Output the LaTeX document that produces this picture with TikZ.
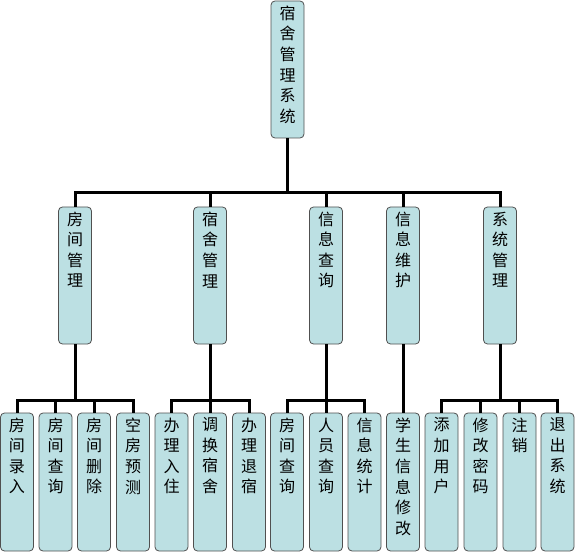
\documentclass[tikz,border=0pt]{standalone}
\usepackage{fontspec}
\newfontfamily\cjk{Noto Sans CJK SC}
\definecolor{boxfill}{HTML}{BCE0E3}
\definecolor{boxline}{HTML}{505050}
\begin{document}
\begin{tikzpicture}[x=1pt,y=-1pt,
  box/.style={draw=boxline,line width=0.8pt,fill=boxfill,rounded corners=4pt,
    minimum width=33pt,inner sep=0pt,outer sep=0pt},
  txt/.style={font=\cjk\fontsize{16}{20.6}\selectfont,align=center,inner sep=0pt,anchor=north},
  conn/.style={line width=3pt,black}]
\useasboundingbox (0,0) rectangle (575,553);
% helper: \bx{name}{cx}{top}{bottom}{text}
\newcommand{\bx}[5]{%
  \node[box,minimum height={#4-#3},anchor=north] (#1) at (#2,#3) {};
  \node[txt] (#1t) at (#2,#3+4.5) {#5};}
\bx{root}{287.5}{1}{138}{宿\\舍\\管\\理\\系\\统}
\bx{m1}{75}{207}{344}{房\\间\\管\\理}
\bx{m2}{210}{207}{344}{宿\\舍\\管\\理}
\bx{m3}{326}{207}{344}{信\\息\\查\\询}
\bx{m4}{403}{207}{344}{信\\息\\维\\护}
\bx{m5}{500}{207}{344}{系\\统\\管\\理}
\bx{l1}{17}{413}{551}{房\\间\\录\\入}
\bx{l2}{55.5}{413}{551}{房\\间\\查\\询}
\bx{l3}{94}{413}{551}{房\\间\\删\\除}
\bx{l4}{133}{413}{551}{空\\房\\预\\测}
\bx{l5}{171.5}{413}{551}{办\\理\\入\\住}
\bx{l6}{210}{413}{551}{调\\换\\宿\\舍}
\bx{l7}{249}{413}{551}{办\\理\\退\\宿}
\bx{l8}{287}{413}{551}{房\\间\\查\\询}
\bx{l9}{326}{413}{551}{人\\员\\查\\询}
\bx{l10}{364.5}{413}{551}{信\\息\\统\\计}
\bx{l11}{403}{413}{551}{学\\生\\信\\息\\修\\改}
\bx{l12}{441.5}{413}{551}{添\\加\\用\\户}
\bx{l13}{480.5}{413}{551}{修\\改\\密\\码}
\bx{l14}{519.5}{413}{551}{注\\销}
\bx{l15}{557.5}{413}{551}{退\\出\\系\\统}
% junction levels
\coordinate (ja) at (0,193);
\coordinate (jb) at (0,400);
% level 1
\draw[conn] (root.south) -- (root.south |- ja);
\draw[conn] (m1.north) -- (m1.north |- ja) -- (m5.north |- ja) -- (m5.north);
\foreach \m in {m2,m3,m4}{\draw[conn] (\m.north) -- (\m.north |- ja);}
% group 1
\draw[conn] (m1.south) -- (m1.south |- jb);
\draw[conn] (l1.north) -- (l1.north |- jb) -- (l4.north |- jb) -- (l4.north);
\foreach \l in {l2,l3}{\draw[conn] (\l.north) -- (\l.north |- jb);}
% group 2
\draw[conn] (m2.south) -- (l6.north);
\draw[conn] (l5.north) -- (l5.north |- jb) -- (l7.north |- jb) -- (l7.north);
% group 3
\draw[conn] (m3.south) -- (l9.north);
\draw[conn] (l8.north) -- (l8.north |- jb) -- (l10.north |- jb) -- (l10.north);
% group 4
\draw[conn] (m4.south) -- (l11.north);
% group 5
\draw[conn] (m5.south) -- (m5.south |- jb);
\draw[conn] (l12.north) -- (l12.north |- jb) -- (l15.north |- jb) -- (l15.north);
\foreach \l in {l13,l14}{\draw[conn] (\l.north) -- (\l.north |- jb);}
\end{tikzpicture}
\end{document}
